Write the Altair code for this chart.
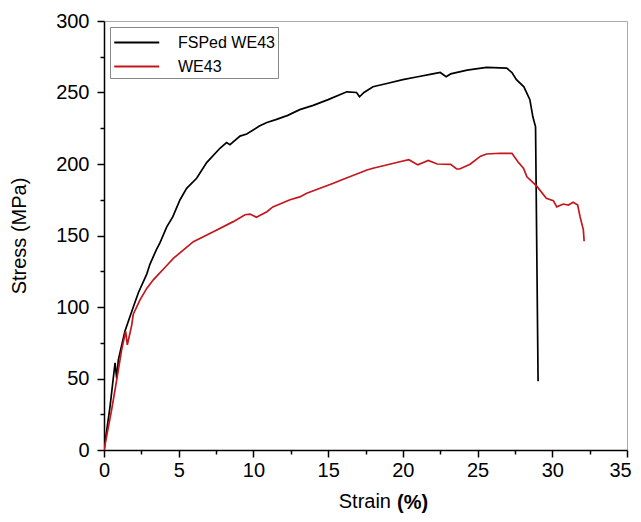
import altair as alt
import pandas as pd

# FSPed WE43 stress-strain curve (strain %, stress MPa)
fsp_strain = [0, 0.4, 0.74, 0.85, 0.96, 1.4, 1.63, 1.96, 2.3, 2.86, 3.08, 3.5, 3.75, 4.2, 4.6, 5.09,
              5.53, 6.2, 6.87, 7.76, 8.2, 8.43, 9.1, 9.55, 10.4, 10.9, 11.5, 12.3, 13.1, 14.0, 15.0,
              16.25, 16.9, 17.1, 17.4, 18.0, 19.0, 20.0, 21.0, 22.0, 22.5, 22.9, 23.2, 24.3, 25.6,
              26.95, 27.3, 27.6, 28.1, 28.5, 28.7, 28.88, 29.05]
fsp_stress = [0, 30, 61, 50, 63, 83, 90, 100, 110, 123, 130, 140, 145, 156, 163, 175,
              183, 190, 201, 211, 215, 213.5, 219.5, 221, 226.5, 229, 231, 234, 238, 241, 245,
              250.5, 250, 247, 250, 254, 256.5, 259, 261, 263, 264, 261, 263, 265.7, 267.6,
              267, 264, 259, 254, 245, 233, 226, 48]

# WE43 stress-strain curve
we_strain = [0, 0.51, 0.85, 1.18, 1.45, 1.56, 1.85, 1.96, 2.41, 2.86, 3.3, 4.2, 4.64, 5.98, 7.32,
             8.65, 9.44, 9.77, 10.2, 10.9, 11.3, 12.45, 13.1, 13.57, 15.35, 15.8, 17.6, 18.0, 19.8,
             20.4, 20.9, 21.0, 21.7, 22.3, 23.2, 23.6, 23.8, 24.5, 25.2, 25.6, 26.5, 27.3, 27.7,
             28.07, 28.3, 28.96, 29.6, 30.07, 30.3, 30.74, 31.08, 31.4, 31.7, 31.86, 32.08, 32.13]
we_stress = [0, 28, 49, 70, 83, 73.5, 87, 95, 105, 113, 119, 129, 134, 145.7, 152.7,
             159.7, 164.5, 165, 162.8, 166.6, 170, 175, 177, 179.5, 186.5, 188.5, 195.8, 197, 201.6,
             203, 200, 199.5, 202.5, 200, 199.8, 196.5, 196.5, 199.8, 205.5, 207, 207.5, 207.5, 201.6,
             197, 191, 184.5, 176, 174.4, 170, 172, 171.3, 173.2, 171.3, 163, 154, 146]

series_names = ["FSPed WE43", "WE43"]
series_colors = ["#000000", "#c4161c"]

rows = []
for i, (s, v) in enumerate(zip(fsp_strain, fsp_stress)):
    rows.append({"strain": s, "stress": v, "series": series_names[0], "order": i})
for i, (s, v) in enumerate(zip(we_strain, we_stress)):
    rows.append({"strain": s, "stress": v, "series": series_names[1], "order": i})
df = pd.DataFrame(rows)

FONT = "Liberation Sans"

x_axis = alt.Axis(
    values=[i * 2.5 for i in range(15)],
    labelExpr="datum.value % 5 === 0 ? datum.label : ''",
    tickSize={"condition": {"test": "datum.value % 5 === 0", "value": 7}, "value": 4},
    labelOffset={"condition": {"test": "datum.value === 35", "value": -7}, "value": 0},
    title=None, grid=False, domainColor="#000", domainWidth=1.5, tickColor="#000", tickWidth=1.5,
    labelFont=FONT, labelFontSize=20, labelColor="#000", labelPadding=3, labelFlush=False,
)
y_axis = alt.Axis(
    values=[i * 25 for i in range(13)],
    labelExpr="datum.value % 50 === 0 ? datum.label : ''",
    tickSize={"condition": {"test": "datum.value % 50 === 0", "value": 7}, "value": 4},
    title="Stress (MPa)", titleFont=FONT, titleFontSize=20, titleFontWeight="normal", titleColor="#000",
    titlePadding=26,
    grid=False, domainColor="#000", domainWidth=1.5, tickColor="#000", tickWidth=1.5,
    labelFont=FONT, labelFontSize=20, labelColor="#000", labelPadding=8, labelFlush=False,
)

lines = alt.Chart(df).mark_line(strokeWidth=1.7, clip=True).encode(
    x=alt.X("strain:Q", scale=alt.Scale(domain=[0, 35], nice=False, zero=False), axis=x_axis),
    y=alt.Y("stress:Q", scale=alt.Scale(domain=[0, 300], nice=False), axis=y_axis),
    color=alt.Color(
        "series:N",
        scale=alt.Scale(domain=series_names, range=series_colors),
        legend=alt.Legend(
            title=None, orient="none", legendX=6, legendY=6,
            symbolType="M-1,0H3", symbolSize=506, symbolStrokeWidth=1.8,
            labelFont=FONT, labelFontSize=16, labelColor="#000", labelOffset=40,
            strokeColor="#888", padding=3, rowPadding=3, fillColor="white",
        ),
    ),
    order="order:Q",
)

title_df = pd.DataFrame({"a": [0]})
t1 = alt.Chart(title_df).mark_text(
    text="Strain", font=FONT, fontSize=20, align="right", baseline="middle", color="#000"
).encode(x=alt.value(287), y=alt.value(481))
t2 = alt.Chart(title_df).mark_text(
    text="(%)", font=FONT, fontSize=20, fontWeight="bold", align="left", baseline="middle", color="#000"
).encode(x=alt.value(293), y=alt.value(482))

chart = alt.layer(lines, t1, t2).properties(
    width=523, height=429,
    autosize=alt.AutoSizeParams(type="none"),
    padding={"left": 96, "top": 13, "right": 5, "bottom": 64},
    background="white",
).configure_view(stroke="#aaaaaa", strokeWidth=1)

chart.save("out.html", embed_options={"renderer": "svg", "actions": False})
